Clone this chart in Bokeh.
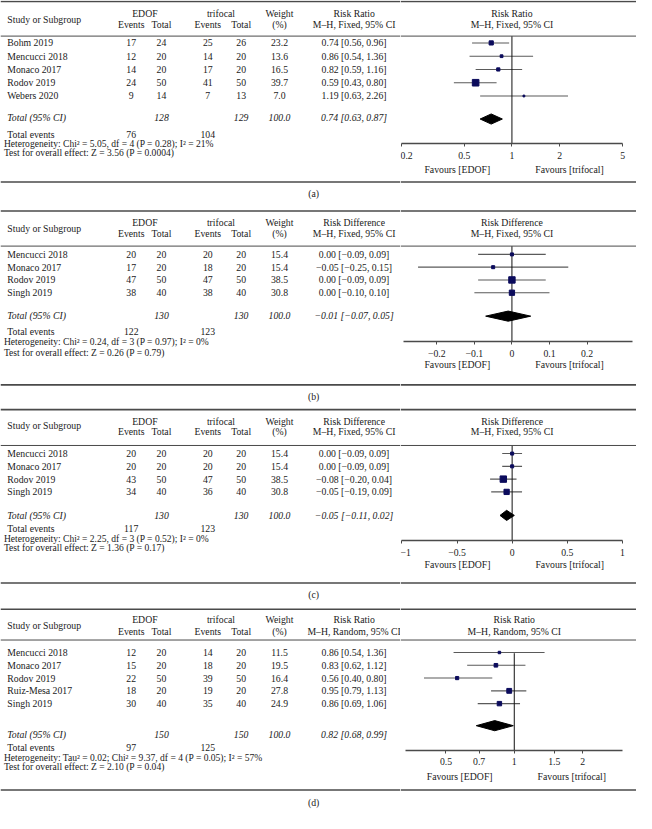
from bokeh.plotting import figure
from bokeh.layouts import column, row
from bokeh.models import (ColumnDataSource, Range1d, LinearAxis, LogAxis, FixedTicker,
                          CustomJSTickFormatter, Span)
from bokeh.core.properties import value
from bokeh.embed import file_html
from bokeh.resources import INLINE

# ------------------------------------------------------------------ data
# (a) Risk Ratio, M-H, Fixed
studies_a = ["Bohm 2019", "Mencucci 2018", "Monaco 2017", "Rodov 2019", "Webers 2020"]
edof_events_a = [17, 12, 14, 24, 9]
edof_total_a = [24, 20, 20, 50, 14]
tri_events_a = [25, 14, 17, 41, 7]
tri_total_a = [26, 20, 20, 50, 13]
weight_a = [23.2, 13.6, 16.5, 39.7, 7.0]
est_a = [0.74, 0.86, 0.82, 0.59, 1.19]
lo_a = [0.56, 0.54, 0.59, 0.43, 0.63]
hi_a = [0.96, 1.36, 1.16, 0.80, 2.26]
pooled_a = [0.74, 0.63, 0.87]
totals_a = [128, 129, 100.0]
events_a = [76, 104]
het_a = "Heterogeneity: Chi\u00b2 = 5.05, df = 4 (P = 0.28); I\u00b2 = 21%"
test_a = "Test for overall effect: Z = 3.56 (P = 0.0004)"
ticks_a = [0.2, 0.5, 1, 2, 5]

# (b) Risk Difference, M-H, Fixed
studies_b = ["Mencucci 2018", "Monaco 2017", "Rodov 2019", "Singh 2019"]
edof_events_b = [20, 17, 47, 38]
edof_total_b = [20, 20, 50, 40]
tri_events_b = [20, 18, 47, 38]
tri_total_b = [20, 20, 50, 40]
weight_b = [15.4, 15.4, 38.5, 30.8]
est_b = [0.00, -0.05, 0.00, 0.00]
lo_b = [-0.09, -0.25, -0.09, -0.10]
hi_b = [0.09, 0.15, 0.09, 0.10]
pooled_b = [-0.01, -0.07, 0.05]
totals_b = [130, 130, 100.0]
events_b = [122, 123]
het_b = "Heterogeneity: Chi\u00b2 = 0.24, df = 3 (P = 0.97); I\u00b2 = 0%"
test_b = "Test for overall effect: Z = 0.26 (P = 0.79)"
ticks_b = [-0.2, -0.1, 0, 0.1, 0.2]

# (c) Risk Difference, M-H, Fixed
studies_c = ["Mencucci 2018", "Monaco 2017", "Rodov 2019", "Singh 2019"]
edof_events_c = [20, 20, 43, 34]
edof_total_c = [20, 20, 50, 40]
tri_events_c = [20, 20, 47, 36]
tri_total_c = [20, 20, 50, 40]
weight_c = [15.4, 15.4, 38.5, 30.8]
est_c = [0.00, 0.00, -0.08, -0.05]
lo_c = [-0.09, -0.09, -0.20, -0.19]
hi_c = [0.09, 0.09, 0.04, 0.09]
pooled_c = [-0.05, -0.11, 0.02]
totals_c = [130, 130, 100.0]
events_c = [117, 123]
het_c = "Heterogeneity: Chi\u00b2 = 2.25, df = 3 (P = 0.52); I\u00b2 = 0%"
test_c = "Test for overall effect: Z = 1.36 (P = 0.17)"
ticks_c = [-1, -0.5, 0, 0.5, 1]

# (d) Risk Ratio, M-H, Random
studies_d = ["Mencucci 2018", "Monaco 2017", "Rodov 2019", "Ruiz-Mesa 2017", "Singh 2019"]
edof_events_d = [12, 15, 22, 18, 30]
edof_total_d = [20, 20, 50, 20, 40]
tri_events_d = [14, 18, 39, 19, 35]
tri_total_d = [20, 20, 50, 20, 40]
weight_d = [11.5, 19.5, 16.4, 27.8, 24.9]
est_d = [0.86, 0.83, 0.56, 0.95, 0.86]
lo_d = [0.54, 0.62, 0.40, 0.79, 0.69]
hi_d = [1.36, 1.12, 0.80, 1.13, 1.06]
pooled_d = [0.82, 0.68, 0.99]
totals_d = [150, 150, 100.0]
events_d = [97, 125]
het_d = "Heterogeneity: Tau\u00b2 = 0.02; Chi\u00b2 = 9.37, df = 4 (P = 0.05); I\u00b2 = 57%"
test_d = "Test for overall effect: Z = 2.10 (P = 0.04)"
ticks_d = [0.5, 0.7, 1, 1.5, 2]

captions = ["(a)", "(b)", "(c)", "(d)"]
measures = ["Risk Ratio", "Risk Difference", "Risk Difference", "Risk Ratio"]
methods = ["M\u2013H, Fixed, 95% CI", "M\u2013H, Fixed, 95% CI",
           "M\u2013H, Fixed, 95% CI", "M\u2013H, Random, 95% CI"]

# ------------------------------------------------------------------ style / layout
S = 636 / 652            # scale from reference pixels to page pixels
FONT = "Liberation Serif"
FS = f"{10 * S:.2f}px"
FS_NOTE = f"{9.8 * S:.2f}px"
TXT = "#1a1a1a"
RULE = "#4a4a4a"
CI_COL = "#5a5a5a"
BOX = "#0b0b5c"
LW = 400
RW = 636 - LW

# column centres (reference px)
X_STUDY, X_NOTE = 7, 3.5
X_EE, X_ET, X_EH = 134, 165, 148
X_TE, X_TT, X_TH = 212.5, 246.7, 226
X_W, X_EFF, X_CAP = 286, 362.5, 321

layouts = [
    dict(y_top=0, y_bot=207, top=1, h1=13, h2=24.5, study=19, sep=36.5, row0=43.5, dy=13.6,
         total=120, tev=137.0, het=146.7, test=155.7, axis=147, fav=173, bottom=186, cap=198,
         diamond=121.5, null_top=36.5, null_px=524.3, ppu=162.4, log=True, bounds=(0.2, 5)),
    dict(y_top=207, y_bot=414, top=215.7, h1=227.7, h2=238.7, study=234, sep=251.7, row0=260.2, dy=13.1,
         total=322.5, tev=339.0, het=350, test=361.0, axis=350, fav=373.5, bottom=394, cap=406,
         diamond=323.5, null_top=251.7, null_px=524.3, ppu=385, log=False, bounds=(-0.29, 0.32)),
    dict(y_top=414, y_bot=616, top=419.3, h1=431, h2=442, study=435.7, sep=456, row0=464.3, dy=13.1,
         total=528, tev=541.3, het=551.7, test=561.0, axis=553.5, fav=578, bottom=597, cap=609,
         diamond=527.7, null_top=456, null_px=524.5, ppu=113, log=False, bounds=(-1, 1)),
    dict(y_top=616, y_bot=829, top=624, h1=634.5, h2=647, study=640.7, sep=655.5, row0=668.3, dy=13.1,
         total=752.7, tev=765.3, het=776, test=785.2, axis=768.3, fav=795, bottom=809.3, cap=821.7,
         diamond=743.3, null_top=669, null_px=526.7, ppu=232.6, log=True, bounds=(0.33, 3.0)),
]

panels = [
    dict(studies=studies_a, ee=edof_events_a, et=edof_total_a, te=tri_events_a, tt=tri_total_a,
         w=weight_a, est=est_a, lo=lo_a, hi=hi_a, pooled=pooled_a, totals=totals_a,
         events=events_a, het=het_a, test=test_a, ticks=ticks_a),
    dict(studies=studies_b, ee=edof_events_b, et=edof_total_b, te=tri_events_b, tt=tri_total_b,
         w=weight_b, est=est_b, lo=lo_b, hi=hi_b, pooled=pooled_b, totals=totals_b,
         events=events_b, het=het_b, test=test_b, ticks=ticks_b),
    dict(studies=studies_c, ee=edof_events_c, et=edof_total_c, te=tri_events_c, tt=tri_total_c,
         w=weight_c, est=est_c, lo=lo_c, hi=hi_c, pooled=pooled_c, totals=totals_c,
         events=events_c, het=het_c, test=test_c, ticks=ticks_c),
    dict(studies=studies_d, ee=edof_events_d, et=edof_total_d, te=tri_events_d, tt=tri_total_d,
         w=weight_d, est=est_d, lo=lo_d, hi=hi_d, pooled=pooled_d, totals=totals_d,
         events=events_d, het=het_d, test=test_d, ticks=ticks_d),
]


def num(v, nd=2):
    return f"{v:.{nd}f}".replace("-", "\u2212")


def eff(e, l, h):
    return f"{num(e)} [{num(l)}, {num(h)}]"


def put(p, xs, ys, texts, align="center", italic=False, size=FS):
    src = ColumnDataSource(dict(x=list(xs), y=list(ys), t=[str(t) for t in texts]))
    p.text(x="x", y="y", text="t", source=src, text_align=align, text_baseline="middle",
           text_font=value(FONT), text_font_size=value(size), text_color=TXT,
           text_font_style="italic" if italic else "normal")


def rules(p, L):
    p.add_layout(Span(location=L["top"], dimension="width", line_color=RULE, line_width=1.6))
    p.add_layout(Span(location=L["sep"], dimension="width", line_color=RULE, line_width=1.0))
    p.add_layout(Span(location=L["bottom"], dimension="width", line_color=RULE, line_width=1.6))


def base_fig(width, H, xr, yr, log=False):
    p = figure(width=width, height=H, x_range=xr, y_range=yr,
               x_axis_type="log" if log else "linear",
               x_axis_location=None, y_axis_location=None, toolbar_location=None,
               output_backend="svg", min_border=0, outline_line_color=None)
    p.grid.visible = False
    return p


def build(idx, d, L):
    H = round((L["y_bot"] - L["y_top"]) * S)
    yr = (L["y_top"] + H / S, L["y_top"])
    n = len(d["studies"])
    ys = [L["row0"] + i * L["dy"] for i in range(n)]

    # ---------------- table part
    left = base_fig(LW, H, Range1d(0, LW / S), Range1d(*yr))
    rules(left, L)
    put(left, [X_STUDY], [L["study"]], ["Study or Subgroup"], align="left")
    put(left, [X_EH, X_TH, X_W, X_EFF], [L["h1"]] * 4,
        ["EDOF", "trifocal", "Weight", measures[idx]])
    put(left, [X_EE, X_ET, X_TE, X_TT, X_W, X_EFF], [L["h2"]] * 6,
        ["Events", "Total", "Events", "Total", "(%)", methods[idx]])
    put(left, [X_STUDY] * n, ys, d["studies"], align="left")
    put(left, [X_EE] * n, ys, d["ee"])
    put(left, [X_ET] * n, ys, d["et"])
    put(left, [X_TE] * n, ys, d["te"])
    put(left, [X_TT] * n, ys, d["tt"])
    put(left, [X_W] * n, ys, [f"{w:.1f}" for w in d["w"]])
    put(left, [X_EFF] * n, ys, [eff(e, l, h) for e, l, h in zip(d["est"], d["lo"], d["hi"])])
    put(left, [X_STUDY], [L["total"]], ["Total (95% CI)"], align="left", italic=True)
    put(left, [X_ET, X_TT, X_W, X_EFF], [L["total"]] * 4,
        [d["totals"][0], d["totals"][1], f"{d['totals'][2]:.1f}", eff(*d["pooled"])], italic=True)
    put(left, [X_STUDY], [L["tev"]], ["Total events"], align="left")
    put(left, [X_EE, X_TE], [L["tev"]] * 2, d["events"])
    put(left, [X_NOTE], [L["het"]], [d["het"]], align="left", size=FS_NOTE)
    put(left, [X_NOTE], [L["test"]], [d["test"]], align="left", size=FS_NOTE)
    put(left, [X_CAP], [L["cap"]], [captions[idx]])

    # ---------------- forest part
    x0_ref, x1_ref = LW / S, 636 / S
    if L["log"]:
        conv = lambda px: 10 ** ((px - L["null_px"]) / L["ppu"])
        null = 1
    else:
        conv = lambda px: (px - L["null_px"]) / L["ppu"]
        null = 0
    right = base_fig(RW, H, Range1d(conv(x0_ref), conv(x1_ref)), Range1d(*yr), log=L["log"])
    rules(right, L)
    put(right, [null], [L["h1"]], [measures[idx]])
    put(right, [null], [L["h2"]], [methods[idx]])

    src = ColumnDataSource(dict(y=ys, est=d["est"], lo=d["lo"], hi=d["hi"],
                                sz=[(0.8 + 0.15 * w) * S for w in d["w"]]))
    right.segment(x0="lo", x1="hi", y0="y", y1="y", source=src, line_color=CI_COL, line_width=1.1)
    right.segment(x0=[null], x1=[null], y0=[L["null_top"]], y1=[L["axis"]],
                  line_color="#111111", line_width=1.0)
    right.scatter(x="est", y="y", size="sz", marker="square", source=src,
                  fill_color=BOX, line_color=BOX)
    pe, pl, ph = d["pooled"]
    dh = 5.2
    yd = L["diamond"]
    right.patch(x=[pl, pe, ph, pe], y=[yd, yd - dh, yd, yd + dh], fill_color="black",
                line_color="black")

    AxisCls = LogAxis if L["log"] else LinearAxis
    ax = AxisCls(ticker=FixedTicker(ticks=d["ticks"], minor_ticks=[]),
                 formatter=CustomJSTickFormatter(
                     code="return (tick < 0 ? '\\u2212' : '') + Math.abs(tick).toString();"),
                 fixed_location=L["axis"], bounds=L["bounds"])
    ax.axis_line_color = RULE
    ax.axis_line_width = 1.3
    ax.major_tick_line_color = RULE
    ax.major_tick_out = 3
    ax.major_tick_in = 0
    ax.minor_tick_out = 0
    ax.minor_tick_in = 0
    ax.major_label_standoff = 5
    ax.major_label_text_font = FONT
    ax.major_label_text_font_size = FS
    ax.major_label_text_color = TXT
    right.add_layout(ax, "below")

    right.text(x=[null], y=[L["fav"]], text=["Favours [EDOF]"], x_offset=-56 * S,
               text_align="center", text_baseline="middle", text_font=value(FONT),
               text_font_size=value(FS), text_color=TXT)
    right.text(x=[null], y=[L["fav"]], text=["Favours [trifocal]"], x_offset=59 * S,
               text_align="center", text_baseline="middle", text_font=value(FONT),
               text_font_size=value(FS), text_color=TXT)
    return row(left, right, spacing=0)


layout = column(*[build(i, d, L) for i, (d, L) in enumerate(zip(panels, layouts))], spacing=0)

open("out.html", "w").write(file_html(layout, INLINE))
